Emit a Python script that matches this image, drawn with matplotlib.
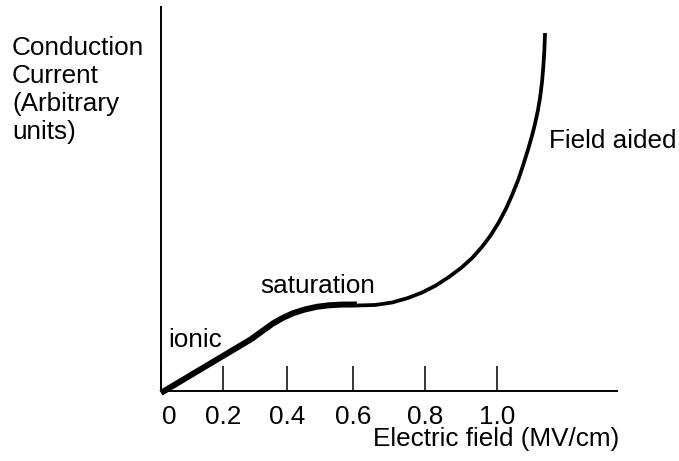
import matplotlib
matplotlib.use("Agg")
import matplotlib.pyplot as plt
import matplotlib.transforms as mtransforms

plt.rcParams['font.family'] = ['Liberation Sans', 'DejaVu Sans']

# Data (x in MV/cm, y in arbitrary units 0-100)
ionic_x = [0.0, 0.274]
ionic_y = [-0.5, 13.8]

sat_x = [0.270, 0.304, 0.333, 0.363, 0.393, 0.429, 0.464, 0.500, 0.536, 0.583]
sat_y = [13.6, 15.76, 17.58, 19.06, 20.26, 21.25, 21.93, 22.32, 22.50, 22.53]

field_x = [0.583, 0.637, 0.688, 0.735, 0.777, 0.818, 0.857, 0.893, 0.926, 0.955,
           0.982, 1.006, 1.027, 1.045, 1.063, 1.077, 1.092, 1.104, 1.113, 1.122,
           1.128, 1.134, 1.138, 1.141, 1.143]
field_y = [22.27, 22.40, 23.05, 24.22, 25.65, 27.47, 29.69, 32.03, 34.64, 37.50,
           40.63, 44.01, 47.53, 51.04, 54.95, 58.59, 62.76, 66.41, 69.53, 73.18,
           76.30, 80.47, 84.64, 88.80, 93.23]

tick_pos = [0.0, 0.184, 0.374, 0.571, 0.786, 1.0]
tick_labels = ['0', '0.2', '0.4', '0.6', '0.8', '1.0']

W, H = 679, 461
fig = plt.figure(figsize=(W / 100, H / 100), dpi=100)
L, R, B, T = 161, 617, 391, 7
ax = fig.add_axes([L / W, (H - B) / H, (R - L) / W, (B - T) / H])
ax.set_xlim(0, (R - L) / 336.0)
ax.set_ylim(0, 100)

ax.plot(ionic_x, ionic_y, color='black', lw=4.3, solid_capstyle='butt',
        solid_joinstyle='round', clip_on=False)
ax.plot(sat_x, sat_y, color='black', lw=4.3, solid_capstyle='butt',
        solid_joinstyle='round', clip_on=False)
ax.plot(field_x, field_y, color='black', lw=2.7, solid_capstyle='butt',
        solid_joinstyle='round', clip_on=False)

for s in ['top', 'right']:
    ax.spines[s].set_visible(False)
for s in ['left', 'bottom']:
    ax.spines[s].set_linewidth(1.4)
    ax.spines[s].set_color('black')

fs = 18.8
ax.set_yticks([])
ax.set_xticks(tick_pos)
ax.set_xticklabels(tick_labels)
ax.tick_params(axis='x', direction='in', length=18, width=1.1, pad=10,
               labelsize=fs, colors='black')
# shift the "0" label slightly right, as in the reference
lab0 = ax.get_xticklabels()[0]
lab0.set_transform(lab0.get_transform() + mtransforms.ScaledTranslation(8 / 100, 0, fig.dpi_scale_trans))

def px(x, y):
    return x / W, 1 - y / H

fig.text(*px(12, 36), "Conduction\nCurrent\n(Arbitrary\nunits)", fontsize=fs,
         ha='left', va='top', linespacing=1.21)
fig.text(*px(549, 148), "Field aided", fontsize=fs, ha='left', va='baseline')
fig.text(*px(260, 293), "saturation", fontsize=fs, ha='left', va='baseline')
fig.text(*px(168, 347), "ionic", fontsize=fs, ha='left', va='baseline')
fig.text(*px(373, 446), "Electric field (MV/cm)", fontsize=fs, ha='left', va='baseline')

fig.savefig("out.png", dpi=100)
